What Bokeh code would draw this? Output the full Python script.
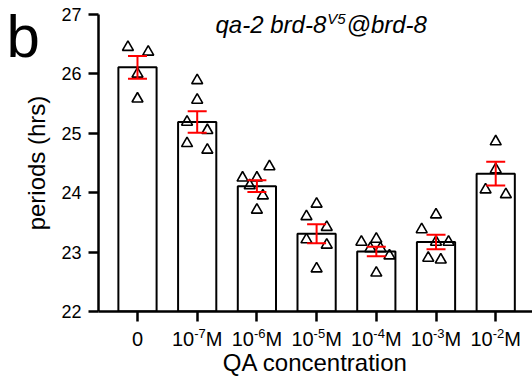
from bokeh.plotting import figure
from bokeh.models import ColumnDataSource, Whisker, TeeHead, FixedTicker
from bokeh.core.properties import value
from bokeh.embed import file_html
from bokeh.resources import INLINE

# ---------------- data ----------------
categories = ["0", "10^-7 M", "10^-6 M", "10^-5 M", "10^-4 M", "10^-3 M", "10^-2 M"]
tick_base = ["0", "10", "10", "10", "10", "10", "10"]
tick_sup = ["", "-7", "-6", "-5", "-4", "-3", "-2"]
tick_unit = ["", "M", "M", "M", "M", "M", "M"]

means = [26.11, 25.19, 24.11, 23.31, 23.01, 23.17, 24.32]
sems = [0.19, 0.18, 0.10, 0.16, 0.08, 0.12, 0.20]

points = [
    [26.45, 26.37, 26.00, 25.58],
    [25.89, 25.56, 25.19, 25.05, 24.83, 24.72],
    [24.25, 24.25, 24.44, 24.12, 23.95, 23.71],
    [23.81, 23.60, 23.42, 23.21, 23.12, 22.72],
    [23.17, 23.22, 23.06, 23.06, 22.94, 22.65],
    [23.38, 23.63, 23.17, 23.17, 22.90, 22.87],
    [24.86, 24.39, 24.05, 23.97],
]
jitter = [
    [-0.16, 0.18, 0.0, 0.0],
    [0.0, 0.0, -0.17, 0.17, -0.17, 0.17],
    [-0.24, 0.0, 0.21, -0.12, 0.10, 0.0],
    [0.0, -0.17, 0.17, -0.17, 0.17, 0.0],
    [-0.25, 0.0, -0.10, 0.07, 0.22, 0.0],
    [-0.24, 0.0, 0.0, 0.21, -0.13, 0.08],
    [0.0, 0.0, -0.17, 0.17],
]

y_ticks = [22, 23, 24, 25, 26, 27]
title_main = "qa-2 brd-8"
title_sup = "V5"
title_tail = "@brd-8"
panel_letter = "b"

FONT = "Liberation Sans"

# Arial / Liberation Sans advance widths (em)
ADV = {c: 0.556 for c in "0123456789"}
ADV.update({"-": 0.333, "M": 0.833, " ": 0.278, "q": 0.556, "a": 0.556, "b": 0.556,
            "r": 0.333, "d": 0.556, "V": 0.667, "@": 1.015})


def text_w(s, size):
    return sum(ADV.get(c, 0.556) for c in s) * size


xs = list(range(len(categories)))
PX_X = 59.7   # px per category (for label placement)
PX_Y = 59.4   # px per hour

p = figure(width=532, height=378, x_range=(-0.653, 6.616), y_range=(22, 27),
           output_backend="svg", toolbar_location=None,
           min_border_left=98, min_border_right=0, min_border_top=14, min_border_bottom=67)
p.outline_line_color = None
p.xgrid.visible = False
p.ygrid.visible = False
p.background_fill_color = "white"
p.border_fill_color = "white"

# bars
p.vbar(x=xs, top=means, bottom=22, width=0.64, fill_color="white",
       line_color="black", line_width=2)

# points
px, py = [], []
for i, (vals, jit) in enumerate(zip(points, jitter)):
    for v, j in zip(vals, jit):
        px.append(i + j)
        py.append(v)
p.scatter(px, py, marker="triangle", size=11, fill_color=None,
          line_color="black", line_width=1.6)

# error bars
src = ColumnDataSource(dict(x=xs, upper=[m + s for m, s in zip(means, sems)],
                            lower=[m - s for m, s in zip(means, sems)]))
w = Whisker(source=src, base="x", upper="upper", lower="lower",
            line_color="red", line_width=2,
            upper_head=TeeHead(size=19, line_color="red", line_width=2),
            lower_head=TeeHead(size=19, line_color="red", line_width=2))
w.level = "overlay"
p.add_layout(w)

# y axis
ya = p.yaxis[0]
ya.ticker = FixedTicker(ticks=y_ticks)
ya.axis_label = "periods (hrs)"
ya.axis_label_text_font = FONT
ya.axis_label_text_font_size = "24px"
ya.axis_label_text_font_style = "normal"
ya.axis_label_text_color = "black"
ya.axis_label_standoff = 8
ya.major_label_text_font = FONT
ya.major_label_text_font_size = "18px"
ya.major_label_text_color = "black"
ya.major_label_standoff = 7
ya.major_tick_out = 10
ya.major_tick_in = 0
ya.minor_tick_line_color = None
ya.axis_line_width = 2.5
ya.major_tick_line_width = 2.5
ya.axis_line_color = "black"
ya.major_tick_line_color = "black"

# x axis
xa = p.xaxis[0]
xa.ticker = FixedTicker(ticks=xs)
xa.major_label_overrides = {i: "" for i in xs}
xa.major_label_standoff = 0
xa.axis_label = "QA concentration"
xa.axis_label_text_font = FONT
xa.axis_label_text_font_size = "24px"
xa.axis_label_text_font_style = "normal"
xa.axis_label_text_color = "black"
xa.axis_label_standoff = 27
xa.major_tick_out = 10
xa.major_tick_in = 0
xa.minor_tick_line_color = None
xa.axis_line_width = 2.5
xa.major_tick_line_width = 2.5
xa.axis_line_color = "black"
xa.major_tick_line_color = "black"

BASELINE_FIX = 0.36  # em, lift applied so the alphabetic baseline lands where wanted


def add_text(xv, yv, texts, offs, size, style="normal"):
    p.text(x=xv, y=yv, text=texts, x_offset=offs, y_offset=-BASELINE_FIX * size,
           text_font=value(FONT), text_font_size=value(f"{size}px"),
           text_font_style=style, text_align="left", text_baseline="alphabetic",
           text_color="black", level="overlay")


# custom x tick labels with superscripts
BASE_FS, SUP_FS = 20, 13
y_base = 22 - 35 / PX_Y
y_sup = 22 - 27 / PX_Y
bx, by, bt, bo = [], [], [], []
sx, sy, st, so = [], [], [], []
for i in xs:
    b, s, u = tick_base[i], tick_sup[i], tick_unit[i]
    wb, ws, wu = text_w(b, BASE_FS), text_w(s, SUP_FS), text_w(u, BASE_FS)
    start = -(wb + ws + wu) / 2
    bx.append(i); by.append(y_base); bt.append(b); bo.append(start)
    if s:
        sx.append(i); sy.append(y_sup); st.append(s); so.append(start + wb)
    if u:
        bx.append(i); by.append(y_base); bt.append(u); bo.append(start + wb + ws)
add_text(bx, by, bt, bo, BASE_FS)
add_text(sx, sy, st, so, SUP_FS)

# title pieces
T_FS, TS_FS = 24, 15
tx = (215 - 137) / PX_X
ty = 27 - 19 / PX_Y
tys = 27 - 9 / PX_Y
w_main = text_w(title_main, T_FS)
w_sup = text_w(title_sup, TS_FS)
add_text([tx, tx], [ty, ty], [title_main, title_tail], [0, w_main + w_sup + 2], T_FS, "italic")
add_text([tx], [tys], [title_sup], [w_main + 1], TS_FS, "italic")

# panel letter
add_text([(6 - 137) / PX_X], [27 - 44 / PX_Y], [panel_letter], [0], 60)

open("out.html", "w").write(file_html(p, INLINE))
